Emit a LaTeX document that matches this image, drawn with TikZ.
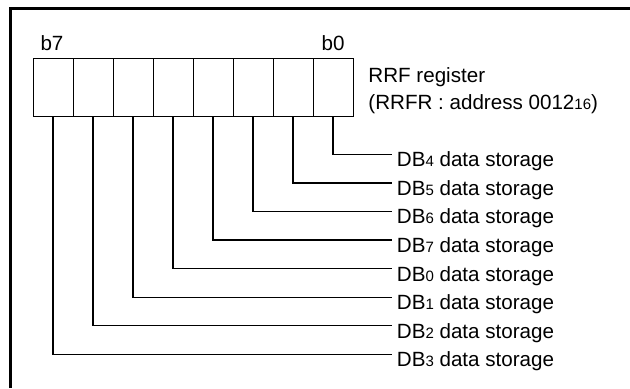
\documentclass[tikz,border=0pt]{standalone}
\usepackage{fontspec}
\setmainfont{Liberation Sans}
\usetikzlibrary{calc}
\newcommand{\sdig}[1]{{\fontsize{7.5pt}{7.5pt}\selectfont #1}}
\tikzset{
  bitcell/.style={draw, line width=0.5pt, minimum width=20pt, minimum height=29pt, inner sep=0pt},
  bitlbl/.style={anchor=base, inner sep=0pt},
  storelbl/.style={anchor=base west, inner sep=0pt},
  wire/.style={line width=0.65pt},
}

\begin{document}
\begin{tikzpicture}[x=0.5pt, y=-0.5pt, font=\fontsize{10.3pt}{12pt}\selectfont]
  \useasboundingbox (0,0) rectangle (630,388);
  % frame
  \draw[line width=1.5pt] (10.5,388) -- (10.5,8.7) -- (630,8.7);
  % register cells, b7 on the left
  \node[bitcell] (c7) at (53,87) {};
  \node[bitcell] (c6) at (93,87) {};
  \node[bitcell] (c5) at (133,87) {};
  \node[bitcell] (c4) at (173,87) {};
  \node[bitcell] (c3) at (213,87) {};
  \node[bitcell] (c2) at (253,87) {};
  \node[bitcell] (c1) at (293,87) {};
  \node[bitcell] (c0) at (333,87) {};
  \node[bitlbl] (t7) at (52,50) {b7};
  \node[bitlbl] (t0) at (333,50) {b0};
  \node[storelbl] (rname) at (368,82) {RRF register};
  \node[storelbl] (raddr) at (368,109.5) {(RRFR : address 0012\sdig{16})};
  % wire ends
  \coordinate (e0) at (392,154.3);
  \coordinate (e1) at (392,182.9);
  \coordinate (e2) at (392,211.4);
  \coordinate (e3) at (392,240.0);
  \coordinate (e4) at (392,268.6);
  \coordinate (e5) at (392,297.2);
  \coordinate (e6) at (392,325.7);
  \coordinate (e7) at (392,354.3);
  % storage labels
  \node[storelbl] (l0) at ($(e0)+(4.5,12.4)$) {DB\sdig{4} data storage};
  \node[storelbl] (l1) at ($(e1)+(4.5,12.4)$) {DB\sdig{5} data storage};
  \node[storelbl] (l2) at ($(e2)+(4.5,12.4)$) {DB\sdig{6} data storage};
  \node[storelbl] (l3) at ($(e3)+(4.5,12.4)$) {DB\sdig{7} data storage};
  \node[storelbl] (l4) at ($(e4)+(4.5,12.4)$) {DB\sdig{0} data storage};
  \node[storelbl] (l5) at ($(e5)+(4.5,12.4)$) {DB\sdig{1} data storage};
  \node[storelbl] (l6) at ($(e6)+(4.5,12.4)$) {DB\sdig{2} data storage};
  \node[storelbl] (l7) at ($(e7)+(4.5,12.4)$) {DB\sdig{3} data storage};
  % connectors
  \draw[wire] (c0.south) |- (e0);
  \draw[wire] (c1.south) |- (e1);
  \draw[wire] (c2.south) |- (e2);
  \draw[wire] (c3.south) |- (e3);
  \draw[wire] (c4.south) |- (e4);
  \draw[wire] (c5.south) |- (e5);
  \draw[wire] (c6.south) |- (e6);
  \draw[wire] (c7.south) |- (e7);
\end{tikzpicture}
\end{document}
